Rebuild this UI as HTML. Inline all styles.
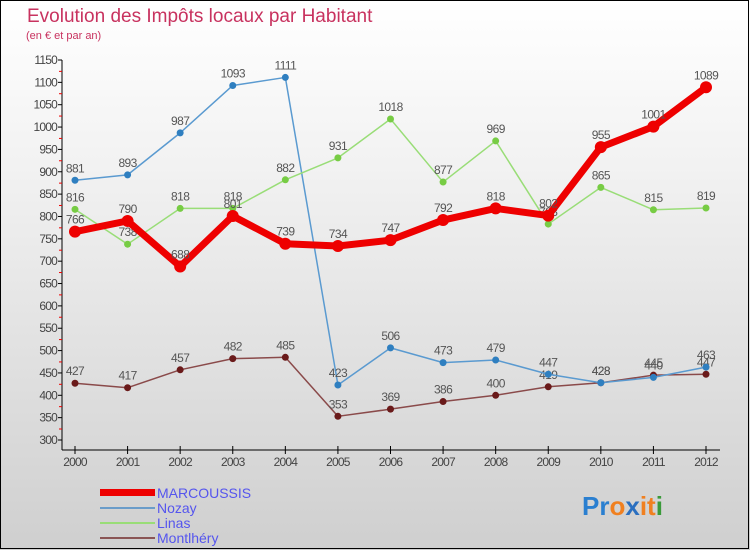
<!DOCTYPE html>
<html><head><meta charset="utf-8"><style>
body{margin:0}
#c{width:750px;height:550px;position:relative;overflow:hidden;background:linear-gradient(#ffffff,#f2f2f2 30%,#cfcfcf);font-family:"Liberation Sans",sans-serif}
</style></head><body>
<div id="c">
<svg id="s" width="750" height="550" style="position:absolute;left:0;top:0">
<rect x="0.5" y="0.5" width="748" height="548" fill="none" stroke="#000"/>
<text x="27" y="22" font-size="19" fill="#c8325f">Evolution des Impôts locaux par Habitant</text>
<text x="26" y="39" font-size="11" fill="#c8325f">(en € et par an)</text>
<g>
<rect x="100" y="489" width="55" height="7" fill="#e00"/>
<text x="157" y="498" font-size="14" fill="#5555ee">MARCOUSSIS</text>
<line x1="100" y1="508" x2="155" y2="508" stroke="#6a9cc9" stroke-width="2"/>
<text x="157" y="513" font-size="14" fill="#5555ee">Nozay</text>
<line x1="100" y1="523" x2="155" y2="523" stroke="#99dd77" stroke-width="2"/>
<text x="157" y="528" font-size="14" fill="#5555ee">Linas</text>
<line x1="100" y1="538" x2="155" y2="538" stroke="#8a5555" stroke-width="2"/>
<text x="157" y="543" font-size="14" fill="#5555ee">Montlhéry</text>
</g>
<text x="582" y="515" font-size="26" font-weight="bold"><tspan fill="#2a7fd0">Pr</tspan><tspan fill="#f08020">o</tspan><tspan fill="#2a6fc0">x</tspan><tspan fill="#f08020">it</tspan><tspan fill="#3a9a3a">i</tspan></text>
<g id="g"></g>
</svg>
</div>
<script>
const years=[2000,2001,2002,2003,2004,2005,2006,2007,2008,2009,2010,2011,2012];
const marcoussis=[766,790,688,801,739,734,747,792,818,802,955,1001,1089];
const nozay=[881,893,987,1093,1111,423,506,473,479,447,428,440,463];
const linas=[816,738,818,818,882,931,1018,877,969,783,865,815,819];
const montlhery=[427,417,457,482,485,353,369,386,400,419,428,445,447];
const yTicks=[300,350,400,450,500,550,600,650,700,750,800,850,900,950,1000,1050,1100,1150];
const NS='http://www.w3.org/2000/svg';
const g=document.getElementById('g');
const X=i=>75+i*(706-75)/12;
const Y=v=>440-(v-300)*(380/850);
function el(t,a){const e=document.createElementNS(NS,t);for(const k in a)e.setAttribute(k,a[k]);g.appendChild(e);return e;}
let e=el('line',{x1:62,y1:60,x2:62,y2:450,stroke:'#000'});


e=el('line',{x1:62,y1:450,x2:720,y2:450,stroke:'#000'});


yTicks.forEach((v,i)=>{
 const y=Y(v);
 let t=el('line',{x1:58,y1:y,x2:62,y2:y,stroke:'#000'});
 
 
 if(i<yTicks.length-1){let m=el('line',{x1:59,y1:y-11,x2:62,y2:y-11,stroke:'#e00'});
 
 }
 let l=el('text',{x:57,y:y+4,'font-size':12,'text-anchor':'end',fill:'#444','letter-spacing':'-0.8'});
 l.textContent=v;
 
 
});
years.forEach((yr,i)=>{
 let t=el('line',{x1:X(i),y1:446,x2:X(i),y2:454,stroke:'#000'});
 
 
 let l=el('text',{x:X(i),y:466,'font-size':12,'text-anchor':'middle',fill:'#444','letter-spacing':'-0.8'});
 l.textContent=yr;
 
 
});
function series(d,name,col,dot,w,r){
 const p=el('polyline',{points:d.map((v,i)=>X(i)+','+Y(v)).join(' '),fill:'none',stroke:col,'stroke-width':w,'stroke-linejoin':'round'});
 
 
 d.forEach((v,i)=>{
  const c=el('circle',{cx:X(i),cy:Y(v),r:r,fill:dot});
  
  
  const t=el('text',{x:X(i),y:Y(v)-8,'font-size':12,'text-anchor':'middle',fill:'#555','letter-spacing':'-0.6'});
  t.textContent=v;
  
  
 });
}
series(montlhery,'montlhery','#8a4a4a','#6a1a1a',1.5,3.5);
series(nozay,'nozay','#5a9ad0','#2f7fc0',1.5,3.5);
series(linas,'linas','#99dd77','#77cc44',1.5,3.5);
series(marcoussis,'marcoussis','#ee0000','#ee0000',7,6);
</script>
</body></html>
